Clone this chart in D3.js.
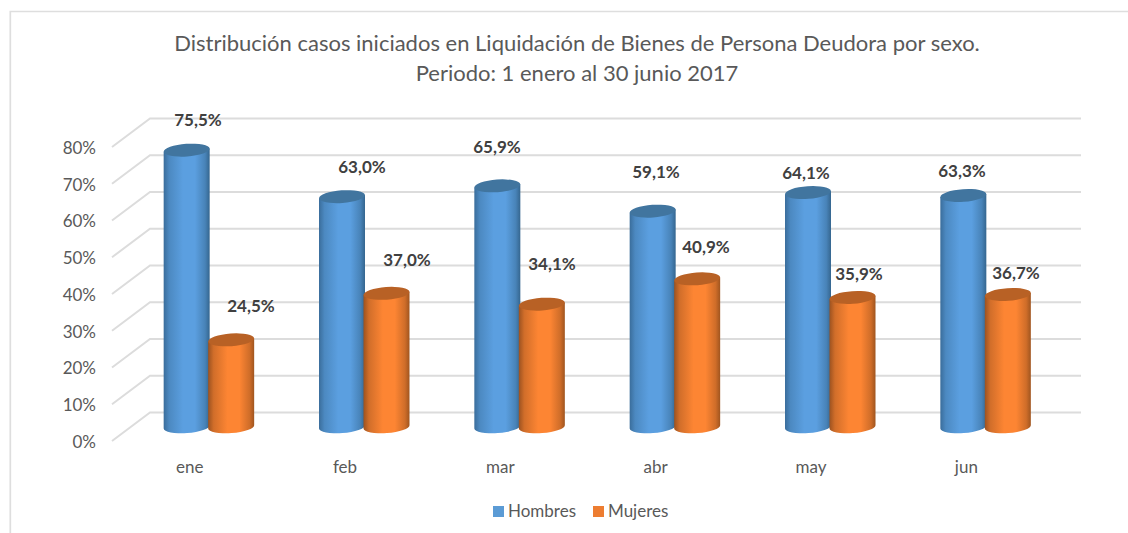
<!DOCTYPE html>
<html><head><meta charset="utf-8">
<script src="https://cdn.jsdelivr.net/npm/d3@7"></script>
<style>html,body{margin:0;padding:0;background:#fff}svg{display:block}text{font-family:Lato,"Open Sans",sans-serif}</style>
</head><body><div id="c"></div>
<script>
const months=["ene","feb","mar","abr","may","jun"];
const hombres=[75.5,63.0,65.9,59.1,64.1,63.3];
const mujeres=[24.5,37.0,34.1,40.9,35.9,36.7];
const seriesNames=["Hombres","Mujeres"];
const titleLines=["Distribución casos iniciados en Liquidación de Bienes de Persona Deudora por sexo.","Periodo: 1 enero al 30 junio 2017"];
const yTicks=[0,10,20,30,40,50,60,70,80];
const W=1128,H=533;
const svg=d3.select("#c").append("svg").attr("width",W).attr("height",H);
const palettes=[
 {id:"gH",edgeL:"#3a6d9b",mid:"#5b9fe0",edgeR:"#35668f",top:"#41759f",swatch:"#5b9bd5"},
 {id:"gM",edgeL:"#9c5220",mid:"#fd8533",edgeR:"#a0551f",top:"#b86125",swatch:"#ed7d31"}];
const defs=svg.append("defs");
palettes.forEach(p=>{
 const g=defs.append("linearGradient").attr("id",p.id);
 [[0,p.edgeL],[.12,d3.interpolateRgb(p.edgeL,p.mid)(.55)],[.42,p.mid],[.68,p.mid],[.9,d3.interpolateRgb(p.edgeR,p.mid)(.5)],[1,p.edgeR]]
  .forEach(s=>g.append("stop").attr("offset",s[0]).attr("stop-color",s[1]));
});
// frame
svg.append("path").attr("d","M10.3,533V11.5H1128").attr("fill","none").attr("stroke","#dedede").attr("stroke-width",1.7);
// title
svg.append("g").selectAll("text").data(titleLines).join("text")
 .attr("x",577).attr("y",(d,i)=>i?81:51).attr("text-anchor","middle")
 .attr("font-size",22).attr("fill","#595959").text(d=>d);
const x=d3.scaleBand().domain(months).range([112,1044]);
const y=d3.scaleLinear().domain([0,80]).range([441,147]);
const dx=38,dy=-28.5;
// back wall gridlines + side diagonals
const grid=svg.append("g").attr("fill","none").attr("stroke","#dcdcdc").attr("stroke-width",2);
yTicks.forEach(t=>{
 grid.append("path").attr("d",`M${x.range()[0]},${y(t)}L${x.range()[0]+dx},${y(t)+dy}H${x.range()[1]+37}`);
});
// y axis labels
const yAxis=d3.axisLeft(y).tickValues(yTicks).tickSize(0).tickPadding(16).tickFormat(d=>d+"%");
const ax=svg.append("g").attr("transform","translate(112,1)").call(yAxis);
ax.select(".domain").remove();
ax.selectAll("text").attr("font-size",17).attr("fill","#595959").style("font-family","Lato");
// x axis labels
const xAxis=d3.axisBottom(x).tickSize(0).tickPadding(20);
const bx=svg.append("g").attr("transform","translate(0,441)").call(xAxis);
bx.select(".domain").remove();
bx.selectAll("text").attr("font-size",17).attr("fill","#595959").style("font-family","Lato");
// cylinders
const v=d3.scaleLinear().domain([0,100]).range([431,59]);
const rx=23,ry=6.3,tilt=-4,rise=1.6;
function cylinder(g,cx,val,p){
 const yt=v(val),yb=v(0)-4.2;
 g.append("path").attr("fill",`url(#${p.id})`)
  .attr("d",`M${cx-rx},${yt+rise}V${yb+rise}A${rx},${ry} ${tilt} 0 0 ${cx+rx},${yb-rise}V${yt-rise}Z`);
 g.append("ellipse").attr("cx",cx).attr("cy",yt).attr("rx",rx).attr("ry",ry).attr("fill",p.top)
  .attr("transform",`rotate(${tilt} ${cx} ${yt})`);
}
const bars=svg.append("g");
const hLab=[[198,120],[362,167],[497,147],[656,172],[806,173],[962,171]];
const mLab=[[251,306],[407,260],[552,264],[706,247],[859,274],[1016,273]];
months.forEach((m,i)=>{
 const c=x(m)+x.bandwidth()/2+19;
 cylinder(bars,c-22,hombres[i],palettes[0]);
 cylinder(bars,c+22.5,mujeres[i],palettes[1]);
});
const fmt=d=>d.toFixed(1).replace(".",",")+"%";
const lab=svg.append("g").attr("text-anchor","middle").attr("font-size",17).attr("font-weight",700).attr("fill","#404040");
months.forEach((m,i)=>{
 lab.append("text").attr("x",hLab[i][0]).attr("y",hLab[i][1]+6).text(fmt(hombres[i]));
 lab.append("text").attr("x",mLab[i][0]).attr("y",mLab[i][1]+6).text(fmt(mujeres[i]));
});
// legend
const lg=svg.append("g");
[[493,508,seriesNames[0]],[593,608,seriesNames[1]]].forEach((d,i)=>{
 lg.append("rect").attr("x",d[0]).attr("y",506).attr("width",11).attr("height",11).attr("fill",palettes[i].swatch);
 lg.append("text").attr("x",d[1]).attr("y",516.5).attr("font-size",17).attr("fill","#595959").text(d[2]);
});
</script></body></html>
